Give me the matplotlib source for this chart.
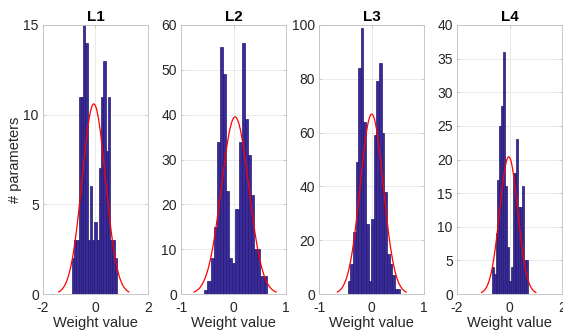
import numpy as np
import matplotlib.pyplot as plt

plt.rcParams['font.family'] = ['Liberation Sans', 'DejaVu Sans']
plt.rcParams['axes.unicode_minus'] = False

# Daten der vier Schichten
titles = ['L1', 'L2', 'L3', 'L4']

counts_l1 = [2, 3, 3, 11, 11, 15, 14, 3, 6, 3, 4, 3, 7, 11, 13, 8, 11, 3, 3, 2]
counts_l2 = [1, 3, 8, 15, 34, 55, 49, 23, 8, 7, 19, 34, 56, 39, 31, 22, 10, 10, 4, 4]
counts_l3 = [5, 11, 23, 49, 84, 99, 64, 26, 5, 28, 59, 79, 86, 60, 38, 15, 11, 7, 2, 2]
counts_l4 = [4, 3, 9, 17, 25, 28, 36, 16, 7, 2, 4, 18, 18, 23, 13, 13, 16, 5, 5]

# Bereich der Bins (erste linke Kante, letzte rechte Kante)
bin_range = [(-0.90, 0.81), (-0.556, 0.632), (-0.453, 0.543), (-0.678, 0.70)]

# Normalverteilungs-Fit: Mittelwert, Sigma, Maximum
fit_mu = [-0.065, 0.03, 0.004, -0.03]
fit_sigma = [0.445, 0.26, 0.218, 0.345]
fit_peak = [10.6, 39.5, 66.9, 20.4]

xlims = [(-2, 2), (-1, 1), (-1, 1), (-2, 2)]
xticks = [[-2, 0, 2], [-1, 0, 1], [-1, 0, 1], [-2, 0, 2]]
ylims = [15, 60, 100, 40]
ysteps = [5, 10, 20, 5]

all_counts = [counts_l1, counts_l2, counts_l3, counts_l4]

W, H = 563, 330
fig = plt.figure(figsize=(W / 100, H / 100), dpi=100)
lefts = [43, 181, 319, 457]

for i in range(4):
    ax = fig.add_axes([lefts[i] / W, 36 / H, 105 / W, 269 / H])
    counts = np.array(all_counts[i])
    edges = np.linspace(bin_range[i][0], bin_range[i][1], len(counts) + 1)
    ax.hist(edges[:-1], bins=edges, weights=counts, color='#3a2b9c',
            edgecolor='#241a6a', linewidth=0.5, zorder=2)

    mu, sd = fit_mu[i], fit_sigma[i]
    xs = np.linspace(mu - 3 * sd, mu + 3 * sd, 200)
    ax.plot(xs, fit_peak[i] * np.exp(-0.5 * ((xs - mu) / sd) ** 2),
            color='red', linewidth=0.9, zorder=3)

    ax.set_xlim(*xlims[i])
    ax.set_ylim(0, ylims[i])
    ax.set_xticks(xticks[i])
    ax.set_yticks(np.arange(0, ylims[i] + 1, ysteps[i]))
    ax.grid(True, color='#e6e6e6', linewidth=0.6, zorder=0)
    ax.set_axisbelow(True)
    for s in ax.spines.values():
        s.set_color('#c0c0c0')
        s.set_linewidth(0.6)
    ax.tick_params(direction='in', length=2.5, width=0.5, color='#c0c0c0',
                   labelsize=10, labelcolor='#262626', top=True, right=True)
    ax.tick_params(axis='x', pad=5)
    ax.tick_params(axis='y', pad=3)
    ax.set_title(titles[i], fontsize=11, fontweight='bold', pad=3)
    ax.set_xlabel('Weight value', fontsize=10.5, color='#262626', labelpad=1)
    if i == 0:
        ax.set_ylabel('# parameters', fontsize=10.5, color='#262626', labelpad=1)

fig.savefig('out.png', dpi=100)
